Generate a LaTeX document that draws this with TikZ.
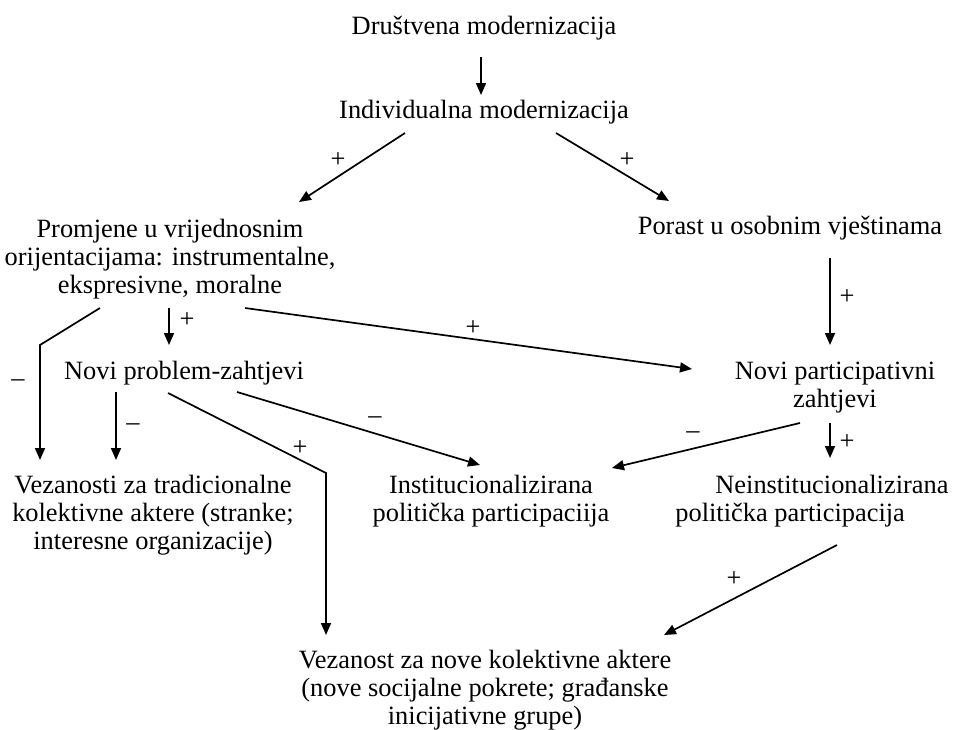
\documentclass[tikz,border=0pt]{standalone}
\usepackage{fontspec}
\setmainfont{Liberation Serif}
\usetikzlibrary{arrows.meta}
\begin{document}
\begin{tikzpicture}[x=0.5pt,y=-0.5pt,
  txt/.style={inner sep=0pt, align=center, font=\fontsize{13.2}{14}\selectfont},
  sgn/.style={inner sep=0pt, font=\fontsize{13.2}{14}\selectfont},
  arr/.style={line width=0.85pt, -{Triangle[length=6pt,width=5pt]}}]
\useasboundingbox (0,0) rectangle (953,729);
\node[txt] (drus) at (484,28) {Društvena modernizacija};
\node[txt] (indiv) at (484,112) {Individualna modernizacija};
\node[txt] (vrij) at (170,259) {Promjene u vrijednosnim\\orijentacijama: instrumentalne,\\ekspresivne, moralne};
\node[txt] (vjest) at (790,228) {Porast u osobnim vještinama};
\node[txt] (probl) at (184,373) {Novi problem-zahtjevi};
\node[txt] (partz) at (835,388) {Novi participativni\\zahtjevi};
\node[txt] (tradk) at (153,515) {Vezanosti za tradicionalne\\kolektivne aktere (stranke;\\interesne organizacije)};
\node[txt] (inst) at (491,501) {Institucionalizirana\\politička participaciija};
\node[txt, align=left, anchor=west] (neinst) at (675,501) {\hspace*{20pt}Neinstitucionalizirana\\politička participacija};
\node[txt] (novik) at (485,690) {Vezanost za nove kolektivne aktere\\(nove socijalne pokrete; građanske\\inicijativne grupe)};
\coordinate (bendA) at (40,345);
\coordinate (bendB) at (326,473);
\draw[arr] ([shift={(-3,29)}]drus.center) -- ([shift={(-3,-17)}]indiv.center);
\draw[arr] ([shift={(-79,21)}]indiv.center) -- ([shift={(129,-57)}]vrij.center);
\draw[arr] ([shift={(72,21)}]indiv.center) -- ([shift={(-121,-27)}]vjest.center);
\draw[arr] ([shift={(40,30)}]vjest.center) -- ([shift={(-5,-43)}]partz.center);
\draw[arr] ([shift={(-1,49)}]vrij.center) -- ([shift={(-15,-28)}]probl.center);
\draw[arr] ([shift={(-70,49)}]vrij.center) -- (bendA) -- ([shift={(-113,-55)}]tradk.center);
\draw[arr] ([shift={(75,49)}]vrij.center) -- ([shift={(-143,-19)}]partz.center);
\draw[arr] ([shift={(-68,19)}]probl.center) -- ([shift={(-37,-55)}]tradk.center);
\draw[arr] ([shift={(-16,20)}]probl.center) -- (bendB) -- ([shift={(-159,-55)}]novik.center);
\draw[arr] ([shift={(53,19)}]probl.center) -- ([shift={(-11,-36)}]inst.center);
\draw[arr] ([shift={(-35,35)}]partz.center) -- ([shift={(121,-33)}]inst.center);
\draw[arr] ([shift={(-5,35)}]partz.center) -- ([shift={(155,-43)}]neinst.west);
\draw[arr] ([shift={(162,44)}]neinst.west) -- ([shift={(179,-55)}]novik.center);
% signs
\node[sgn] (sg1) at (338,160) {+};
\node[sgn] (sg2) at (627,160) {+};
\node[sgn] (sg3) at (847,297) {+};
\node[sgn] (sg4) at (187,320) {+};
\node[sgn] (sg5) at (18,383) {--};
\node[sgn] (sg6) at (473,328) {+};
\node[sgn] (sg7) at (133,427) {--};
\node[sgn] (sg8) at (300,448) {+};
\node[sgn] (sg9) at (375,420) {--};
\node[sgn] (sg10) at (693,435) {--};
\node[sgn] (sg11) at (847,442) {+};
\node[sgn] (sg12) at (734,579) {+};
\end{tikzpicture}
\end{document}
